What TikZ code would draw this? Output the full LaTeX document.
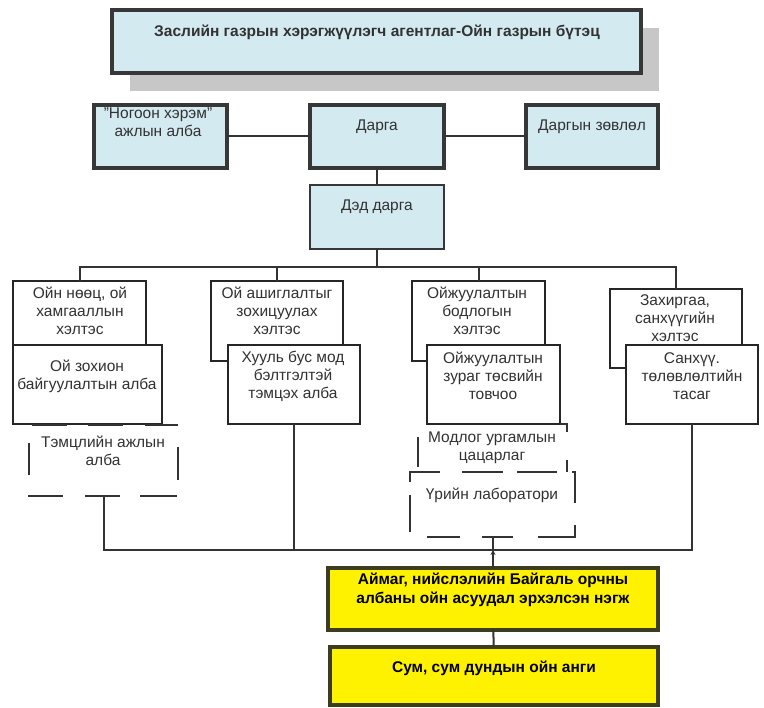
\documentclass[tikz,border=0pt]{standalone}
\usepackage{fontspec}
\setmainfont{Liberation Sans}
\usetikzlibrary{shadows,arrows.meta}
\definecolor{lblue}{RGB}{212,234,241}
\definecolor{frame}{RGB}{55,55,55}
\definecolor{yframe}{RGB}{60,60,30}
\definecolor{tcol}{RGB}{50,50,50}
\tikzset{
  box/.style={rectangle, inner sep=0pt, outer sep=0pt},
  headbox/.style={box, fill=lblue, draw=frame, line width=3.2pt},
  thinblue/.style={box, fill=lblue, draw=frame, line width=1.8pt},
  deptbox/.style={box, fill=white, draw=black!85, line width=2pt},
  dashbox/.style={box},
  dsh/.style={draw=black!80, line width=2pt},
  yelbox/.style={box, fill=yellow, draw=yframe, line width=3.2pt},
  txt/.style={inner sep=0pt, align=center, text=tcol, font=\fontsize{15.5}{18}\selectfont},
  btxt/.style={inner sep=0pt, align=center, text=black, font=\bfseries\fontsize{15.5}{19}\selectfont},
  conn/.style={draw=black!80, line width=2pt},
}
\begin{document}
\begin{tikzpicture}[x=1pt,y=-1pt]
\useasboundingbox (0,0) rectangle (764,708);
% title
\node[headbox, minimum width=529pt, minimum height=63pt,
  drop shadow={shadow xshift=18pt, shadow yshift=-18pt, fill=black!22, opacity=1}] (title) at (376.5,41.5) {};
\node[btxt, text=tcol] (ttitle) at (377,32) {Заслийн газрын хэрэгжүүлэгч агентлаг-Ойн газрын бүтэц};
% top row
\node[headbox, minimum width=133pt, minimum height=63pt] (ngo) at (160.5,136.5) {};
\node[txt] (tngo) at (158,122.5) {"Ногоон хэрэм"\\ ажлын алба};
\node[headbox, minimum width=134pt, minimum height=63pt] (darga) at (377,136.5) {};
\node[txt] (tdarga) at (377,127) {Дарга};
\node[headbox, minimum width=132pt, minimum height=63pt] (zov) at (592,136.5) {};
\node[txt] (tzov) at (592,127) {Даргын зөвлөл};
\node[thinblue, minimum width=134pt, minimum height=64pt] (ded) at (377,217) {};
\node[txt] (tded) at (377,207) {Дэд дарга};
\draw[conn] (ngo) -- (darga);
\draw[conn] (darga) -- (zov);
\draw[conn] (darga) -- (ded);
% departments
\node[deptbox, minimum width=133pt, minimum height=64pt] (b1) at (79.5,313) {};
\node[txt] (tb1) at (80,311) {Ойн нөөц, ой\\ хамгааллын\\ хэлтэс};
\node[deptbox, minimum width=149pt, minimum height=79pt] (b1b) at (87.5,384.5) {};
\node[txt] (tb1b) at (87,376) {Ой зохион\\ байгуулалтын алба};
\node[deptbox, minimum width=132pt, minimum height=80pt] (b2) at (277,321) {};
\node[txt] (tb2) at (277,311) {Ой ашиглалтыг\\ зохицуулах\\ хэлтэс};
\node[deptbox, minimum width=132pt, minimum height=79pt] (b2b) at (294,384.5) {};
\node[txt] (tb2b) at (293,376) {Хууль бус мод\\ бэлтгэлтэй\\ тэмцэх алба};
\node[deptbox, minimum width=133pt, minimum height=80pt] (b3) at (478.5,321) {};
\node[txt] (tb3) at (477,311) {Ойжуулалтын\\ бодлогын\\ хэлтэс};
\node[deptbox, minimum width=133pt, minimum height=79pt] (b3b) at (493.5,384.5) {};
\node[txt] (tb3b) at (493,376) {Ойжуулалтын\\ зураг төсвийн\\ товчоо};
\node[deptbox, minimum width=132pt, minimum height=79pt] (b4) at (676,328.5) {};
\node[txt] (tb4) at (675,318) {Захиргаа,\\ санхүүгийн\\ хэлтэс};
\node[deptbox, minimum width=132pt, minimum height=79pt] (b4b) at (692,384.5) {};
\node[txt] (tb4b) at (692,376) {Санхүү.\\ төлөвлөлтийн\\ тасаг};
% dashed boxes (frames drawn as dashes below)
\node[dashbox, minimum width=149pt, minimum height=71pt] (tem) at (103.5,460.5) {};
\node[txt] (ttem) at (103,451) {Тэмцлийн ажлын\\ алба};
\node[dashbox, minimum width=149pt, minimum height=48pt] (mod) at (492.5,448) {};
\node[txt] (tmod) at (492,447.5) {Модлог ургамлын\\ цацарлаг};
\node[dashbox, minimum width=165pt, minimum height=65pt] (urin) at (492.5,504.5) {};
\node[txt] (turin) at (492,495) {Үрийн лаборатори};
% dashes of Тэмцлийн
\draw[dsh] (32,425) -- (67,425) (88,425) -- (123,425) (145,425) -- (178,425);
\draw[dsh] (28,496) -- (63,496) (85,496) -- (120,496) (140,496) -- (177,496);
\draw[dsh] (29,443) -- (29,475);
\draw[dsh] (178,447) -- (178,480);
% dashes of Модлог
\draw[dsh] (560,424) -- (567,424) -- (567,432);
\draw[dsh] (418,437) -- (418,467);
\draw[dsh] (567,460) -- (567,472);
\draw[dsh] (410,482) -- (410,472) -- (440,472) (462,472) -- (503,472) (517,472) -- (557,472);
% dashes of Үрийн
\draw[dsh] (572,472) -- (575,472) -- (575,503);
\draw[dsh] (410,495) -- (410,532);
\draw[dsh] (575,525) -- (575,537) -- (538,537);
\draw[dsh] (427,537) -- (460,537) (482,537) -- (513,537);
% bus 1
\coordinate (bus1) at (0,267);
\draw[conn] (ded.south) -- (ded.south |- bus1);
\draw[conn] (b1.north) -- (b1.north |- bus1) -- (b4.north |- bus1) -- (b4.north);
\draw[conn] (b2.north) -- (b2.north |- bus1);
\draw[conn] (b3.north) -- (b3.north |- bus1);
% yellow boxes
\node[yelbox, minimum width=330pt, minimum height=62pt] (y1) at (493,599) {};
\node[btxt] (ty1) at (493,590) {Аймаг, нийслэлийн Байгаль орчны\\ албаны ойн асуудал эрхэлсэн нэгж};
\node[yelbox, minimum width=328pt, minimum height=58pt] (y2) at (494,676) {};
\node[btxt] (ty2) at (494,668) {Сум, сум дундын ойн анги};
% bus 2
\coordinate (bus2) at (0,550);
\draw[conn] (tem.south) -- (tem.south |- bus2) -- (b4b.south |- bus2) -- (b4b.south);
\draw[conn] (b2b.south) -- (b2b.south |- bus2);
\draw[conn, -{Stealth[length=5pt,width=5pt]}] (y1.north) -- (y1.north |- bus2);
\draw[conn] (y1.north |- bus2) -- (y1.north |- urin.south);
\draw[conn] (y1) -- (y2);
\end{tikzpicture}
\end{document}
